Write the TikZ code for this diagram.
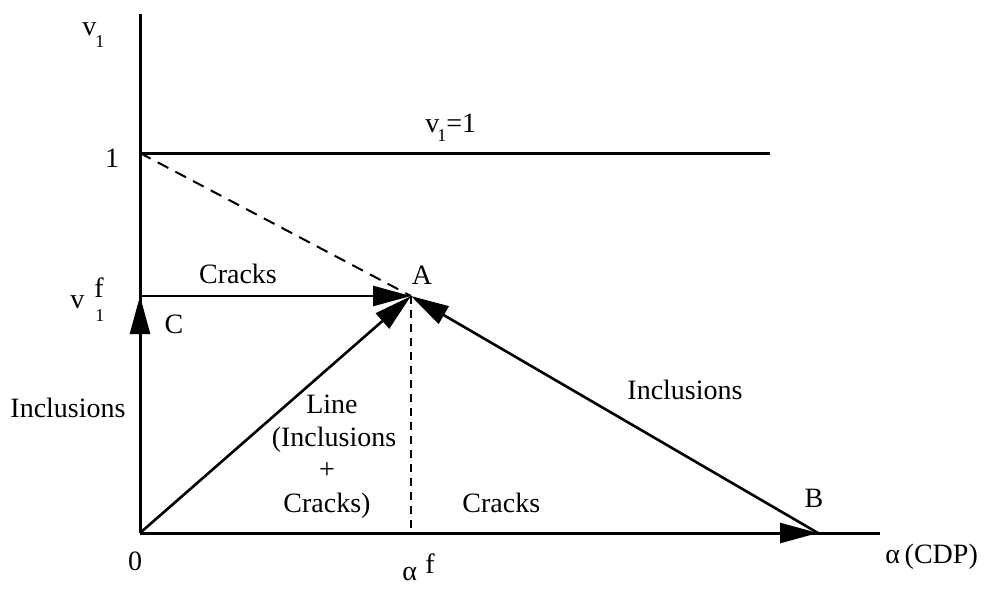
\documentclass[tikz,border=0pt]{standalone}
\usepackage{fontspec}
\setmainfont{Liberation Serif}
\usetikzlibrary{arrows.meta}
\begin{document}
\begin{tikzpicture}[x=0.5pt,y=-0.5pt,
  lbl/.style={font=\fontsize{14}{16}\selectfont, inner sep=0pt},
  sub/.style={font=\fontsize{9}{10}\selectfont, inner sep=0pt},
  ax/.style={line width=1.5pt},
  vec/.style={line width=1.3pt, -{Triangle[length=19pt,width=10pt]}},
  dsh/.style={line width=1pt, dash pattern=on 6pt off 4pt},
  dshv/.style={line width=1pt, dash pattern=on 4pt off 3pt}]
\useasboundingbox (0,0) rectangle (984,591);
% points
\coordinate (O) at (140,533);
\coordinate (A) at (411,296);
\coordinate (B) at (818,533);
\coordinate (C) at (140,296);
\coordinate (one) at (140,153);
\coordinate (ytop) at (140,14);
\coordinate (xend) at (880,533);
\coordinate (lend) at (770,153);
\coordinate (foot) at (411,533);
% axes and lines
\draw[ax] (O) -- (ytop);
\draw[ax] (O) -- (xend);
\draw[ax] (one) -- (lend);
\draw[dsh] (one) -- (A);
\draw[dshv] (A) -- (foot);
% vectors
\draw[vec] (O) -- (C);
\draw[vec] (C) -- (A);
\draw[vec] (O) -- (A);
\draw[vec] (B) -- (A);
\draw[vec] (O) -- (B);
% labels
\node[lbl, anchor=base west] (yv) at (82,35) {v};
\node[sub, anchor=base west] (yv1) at (95,47) {1};
\node[lbl, anchor=base] (lone) at (112,167) {1};
\node[lbl, anchor=base west] (vf) at (70,308) {v};
\node[lbl, anchor=base west] (vff) at (94,297) {f};
\node[sub, anchor=base west] (vf1) at (95,321) {1};
\node[lbl, anchor=base] (lC) at (174,333) {C};
\node[lbl, anchor=base] (incl) at (68,417) {Inclusions};
\node[lbl, anchor=base] (crt) at (238,283) {Cracks};
\node[lbl, anchor=base] (lA) at (422,284) {A};
\node[lbl, anchor=base west] (vone) at (425,132) {v};
\node[sub, anchor=base west] (vone1) at (437,141) {1};
\node[lbl, anchor=base west] (vone2) at (446,132) {=1};
\node[lbl, anchor=base] (ln1) at (332,413) {Line};
\node[lbl, anchor=base] (ln2) at (334,446) {(Inclusions};
\node[lbl, anchor=base] (ln3) at (327,478) {+};
\node[lbl, anchor=base] (ln4) at (327,512) {Cracks)};
\node[lbl, anchor=base] (incr) at (685,399) {Inclusions};
\node[lbl, anchor=base west] (crb) at (462,512) {Cracks};
\node[lbl, anchor=base] (lB) at (814,507) {B};
\node[lbl, anchor=base] (lzero) at (135,570) {0};
\node[lbl, anchor=base west] (af) at (402,580) {α};
\node[lbl, anchor=base west] (aff) at (425,573) {f};
\node[lbl, anchor=base west] (acdp) at (885,563) {α\,(CDP)};
\end{tikzpicture}
\end{document}
